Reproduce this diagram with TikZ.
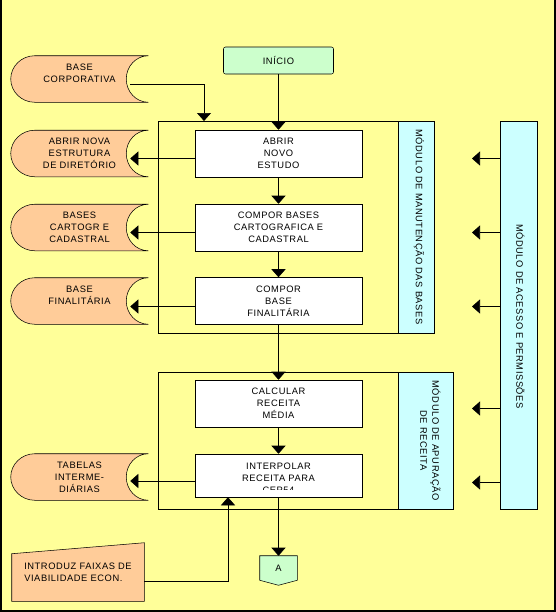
\documentclass[tikz,border=0pt]{standalone}
\usepackage{fontspec}
\setmainfont{Liberation Sans}[LetterSpace=6]
\usetikzlibrary{arrows.meta,calc}
\definecolor{bgy}{HTML}{FFFF99}
\definecolor{org}{HTML}{FFCC99}
\definecolor{grn}{HTML}{CCFFCC}
\definecolor{cyn}{HTML}{CCFFFF}
\pgfdeclarelayer{back}
\pgfdeclarelayer{shapes}
\pgfsetlayers{back,shapes,main}
\newcommand\sdshape[1]{%
  \draw[fill=org] ($(#1.north west)+(24,0)$) -- (#1.north east)
    .. controls ($(#1.north east)+(-12.2,0)$) and ($(#1.east)+(-22,-12.7)$) .. ($(#1.east)+(-22,0)$)
    .. controls ($(#1.east)+(-22,12.7)$) and ($(#1.south east)+(-12.2,0)$) .. (#1.south east)
    -- ($(#1.south west)+(24,0)$)
    .. controls ($(#1.south west)+(10.7,0)$) and ($(#1.west)+(0,12.7)$) .. (#1.west)
    .. controls ($(#1.west)+(0,-12.7)$) and ($(#1.north west)+(10.7,0)$) .. ($(#1.north west)+(24,0)$) -- cycle;}
\begin{document}
\begin{tikzpicture}[x=0.75pt,y=-0.75pt,line width=0.8pt,
  every node/.style={font=\fontsize{7}{9}\selectfont, inner sep=0pt},
  box/.style={draw, fill=white, minimum width=125.25pt, minimum height=35.25pt, align=center},
  sd/.style={minimum width=102.75pt, minimum height=34.5pt, align=center},
  bar/.style={draw, fill=cyn},
  vtext/.style={rotate=-90, align=center},
  arr/.style={-{Triangle[width=10.5pt,length=6pt]}}]
\useasboundingbox (0,0) rectangle (556,612);
\begin{pgfonlayer}{back}
  \fill[bgy] (0,0) rectangle (556,612);
  \draw[line width=1.5pt] (1,0) -- (1,611) -- (555,611) -- (555,0);
\end{pgfonlayer}

% frames
\node[draw, minimum width=180pt, minimum height=159pt] (frame1) at (278,227) {};
\node[draw, minimum width=180pt, minimum height=102.75pt] (frame2) at (278,440.5) {};

% module bars
\node[bar, minimum width=27pt, minimum height=159pt] (m1) at (416,227) {};
\node[vtext] (m1t) at (419,227) {MÓDULO DE MANUTENÇÃO DAS BASES};
\node[bar, minimum width=41.25pt, minimum height=102.75pt] (m2) at (425.5,440.5) {};
\node[vtext] (m2t) at (430.5,440.5) {MÓDULO DE APURAÇÃO\\DE RECEITA};
\node[bar, minimum width=27.75pt, minimum height=291pt] (m3) at (518.5,315) {};
\node[vtext] (m3t) at (520.5,316.5) {MÓDULO DE ACESSO E PERMISSÕES};

% start
\node[draw, fill=grn, rounded corners=1.5pt, minimum width=82.5pt, minimum height=20.25pt] (inicio) at (278.5,60.5) {INÍCIO};

% process boxes
\node[box] (abrir) at (278.5,153.5) {ABRIR\\NOVO\\ESTUDO};
\node[box] (compor) at (278.5,227.5) {COMPOR BASES\\CARTOGRAFICA E\\CADASTRAL};
\node[box] (final) at (278.5,301) {COMPOR\\BASE\\FINALITÁRIA};
\node[box] (calc) at (278.5,403.5) {CALCULAR\\RECEITA\\MÉDIA};
\node[box, minimum height=32.25pt] (interp) at (278.5,475.5) {};
\begin{scope}
  \clip (interp.north west) rectangle ($(interp.south east)+(0,-7.5)$);
  \node[anchor=north, align=center] (interpt) at ($(interp.north)+(0,8.5)$) {INTERPOLAR\\RECEITA PARA\\CEP54};
\end{scope}

% stored data
\node[sd] (bc) at (79.5,79) {BASE\\CORPORATIVA\\\mbox{}};
\node[sd] (abrirsd) at (79.5,153.5) {ABRIR NOVA\\ESTRUTURA\\DE DIRETÓRIO};
\node[sd] (cartsd) at (79.5,227.5) {BASES\\CARTOGR E\\CADASTRAL};
\node[sd] (finsd) at (79.5,301) {BASE\\FINALITÁRIA\\\mbox{}};
\node[sd] (tabsd) at (79.5,477) {TABELAS\\INTERME-\\DIÁRIAS};
\begin{pgfonlayer}{shapes}
  \sdshape{bc}
  \sdshape{abrirsd}
  \sdshape{cartsd}
  \sdshape{finsd}
  \sdshape{tabsd}
\end{pgfonlayer}

% manual input
\node[minimum width=99pt, minimum height=43.5pt, align=left] (intro) at (78,572) {INTRODUZ FAIXAS DE\\VIABILIDADE ECON.};
\begin{pgfonlayer}{shapes}
  \draw[fill=org] ($(intro.north west)+(0,11)$) -- (intro.north east) -- (intro.south east) -- (intro.south west) -- cycle;
\end{pgfonlayer}

% off-page connector
\node[minimum width=27.75pt, minimum height=18pt] (aconn) at (278.5,568) {A};
\begin{pgfonlayer}{shapes}
  \draw[fill=grn] (aconn.north west) -- (aconn.north east) -- (aconn.south east) -- ($(aconn.south)+(0,5)$) -- (aconn.south west) -- cycle;
\end{pgfonlayer}

% coordinates for free ends
\coordinate (f1in) at (204,121);
\coordinate (introin) at ($(interp.south)+(-50.5,0)$);
\coordinate (q1) at (472,158.5);
\coordinate (q2) at (472,232.5);
\coordinate (q3) at (472,306.5);
\coordinate (q4) at (472,408.5);
\coordinate (q5) at (472,482.5);

% main flow
\draw[arr] (inicio) -- (abrir);
\draw[arr] (abrir) -- (compor);
\draw[arr] (compor) -- (final);
\draw[arr] (final) -- (calc);
\draw[arr] (calc) -- (interp);
\draw[arr] (interp) -- (aconn);

% outputs to stored data
\draw[arr] ($(abrir.west)+(0,5)$) -- ($(abrirsd.east)+(-18,5)$);
\draw[arr] ($(compor.west)+(0,5)$) -- ($(cartsd.east)+(-18,5)$);
\draw[arr] ($(final.west)+(0,5.5)$) -- ($(finsd.east)+(-18,5.5)$);
\draw[arr] ($(interp.west)+(0,5.5)$) -- ($(tabsd.east)+(-18,4)$);

% inputs
\draw[arr] ($(bc.east)+(-18,5)$) -| (f1in);
\draw[arr] ($(intro.east)+(0,9)$) -| (introin);

% access module arrows
\draw[arr] (m3.west |- q1) -- (q1);
\draw[arr] (m3.west |- q2) -- (q2);
\draw[arr] (m3.west |- q3) -- (q3);
\draw[arr] (m3.west |- q4) -- (q4);
\draw[arr] (m3.west |- q5) -- (q5);
\end{tikzpicture}
\end{document}
